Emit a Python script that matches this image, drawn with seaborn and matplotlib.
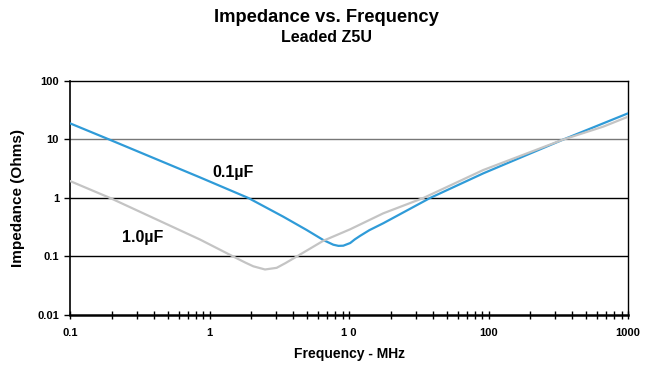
import pandas as pd
import matplotlib
matplotlib.use("Agg")
import matplotlib.pyplot as plt
import seaborn as sns
from matplotlib.ticker import FixedLocator, NullLocator, LogLocator

# values (MHz, Ohms)
blue_freq = [0.1, 0.191, 0.855, 1.90, 3.38, 4.97, 6.55, 7.72, 8.4, 9.10, 10.2, 11.0, 12.0, 14.0, 17.6, 38.1, 91.8, 344, 665, 1000]
blue_z = [18.9, 10.0, 2.25, 1.0, 0.479, 0.284, 0.191, 0.159, 0.152, 0.153, 0.170, 0.196, 0.225, 0.282, 0.370, 1.0, 2.64, 10.0, 18.9, 28.0]

gray_freq = [0.1, 0.194, 0.855, 1.48, 1.8, 2.06, 2.50, 3.03, 3.5, 4.22, 6.55, 10.2, 17.6, 34.1, 91.8, 344, 665, 1000]
gray_z = [1.95, 1.0, 0.195, 0.1, 0.079, 0.068, 0.060, 0.064, 0.077, 0.1, 0.186, 0.292, 0.547, 1.0, 3.01, 10.0, 16.6, 24.5]

series_names = ["0.1µF", "1.0µF"]
x_ticks = [0.1, 1, 10, 100, 1000]
x_tick_labels = ["0.1", "1", "1 0", "100", "1000"]
y_ticks = [0.01, 0.1, 1, 10, 100]
y_tick_labels = ["0.01", "0.1", "1", "10", "100"]

df = pd.concat([
    pd.DataFrame({"freq": blue_freq, "z": blue_z, "cap": series_names[0]}),
    pd.DataFrame({"freq": gray_freq, "z": gray_z, "cap": series_names[1]}),
])

sns.set_style("white")
plt.rcParams["font.family"] = ["Liberation Sans", "DejaVu Sans"]
plt.rcParams["font.weight"] = "bold"
plt.rcParams["text.color"] = "black"
plt.rcParams["axes.labelcolor"] = "black"
plt.rcParams["xtick.color"] = "black"
plt.rcParams["ytick.color"] = "black"

fig = plt.figure(figsize=(6.53, 3.66), dpi=100)
ax = fig.add_axes([70 / 653, 1 - 315 / 366, 558 / 653, 234 / 366])

sns.lineplot(data=df, x="freq", y="z", hue="cap", estimator=None, sort=False,
             palette={series_names[0]: "#2F9BD8", series_names[1]: "#C4C4C4"},
             linewidth=1.6, legend=False, ax=ax, zorder=3)

ax.set_xscale("log")
ax.set_yscale("log")
ax.set_xlim(0.1, 1000)
ax.set_ylim(0.01, 100)

ax.xaxis.set_major_locator(FixedLocator(x_ticks))
ax.xaxis.set_minor_locator(LogLocator(base=10, subs=range(2, 10)))
ax.set_xticks(x_ticks)
ax.set_xticklabels(x_tick_labels)
ax.yaxis.set_major_locator(FixedLocator(y_ticks))
ax.yaxis.set_minor_locator(NullLocator())
ax.set_yticks(y_ticks)
ax.set_yticklabels(y_tick_labels)

ax.tick_params(axis="x", which="both", bottom=True, direction="inout", length=6, width=1,
               color="black", labelsize=8, pad=6, labelcolor="black")
ax.tick_params(axis="y", which="major", left=True, direction="out", length=4.5, width=1,
               color="black", labelsize=8, pad=3.5, labelcolor="black")
for lab in ax.get_xticklabels() + ax.get_yticklabels():
    lab.set_fontweight("bold")

# horizontal grid lines at the decades
for yv in [0.1, 1, 10]:
    ax.axhline(yv, color="#777777" if yv == 10 else "black", linewidth=1, zorder=1)

for side in ["left", "bottom", "top", "right"]:
    ax.spines[side].set_visible(True)
    ax.spines[side].set_color("black")
ax.spines["bottom"].set_linewidth(1.8)
ax.spines["left"].set_linewidth(1.2)
ax.spines["top"].set_linewidth(1)
ax.spines["right"].set_linewidth(1)

ax.set_xlabel("Frequency - MHz", fontsize=10, fontweight="bold", labelpad=7)
ax.set_ylabel("Impedance (Ohms)", fontsize=11, fontweight="bold", labelpad=9)

ax.text(1.04, 2.73, series_names[0], fontsize=11.5, fontweight="bold", va="center", ha="left")
ax.text(0.235, 0.211, series_names[1], fontsize=11.5, fontweight="bold", va="center", ha="left")

fig.text(0.5, 1 - 18 / 366, "Impedance vs. Frequency", fontsize=13.2, fontweight="bold",
         ha="center", va="center")
fig.text(0.5, 1 - 38 / 366, "Leaded Z5U", fontsize=11.5, fontweight="bold",
         ha="center", va="center")

fig.savefig("out.png", dpi=100)
